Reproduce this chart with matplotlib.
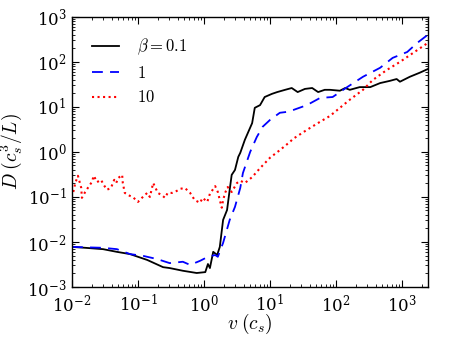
import numpy as np
import matplotlib
matplotlib.use("Agg")
import matplotlib.pyplot as plt

# log10 values
logv_b01 = [-2.00, -1.80, -1.53, -1.32, -1.12, -0.86, -0.62, -0.52, -0.32, -0.11, 0.02, 0.06, 0.09, 0.14,
            0.20, 0.24, 0.29, 0.35, 0.39, 0.42, 0.47, 0.52, 0.55, 0.62, 0.73, 0.77, 0.85, 0.92, 1.03,
            1.11, 1.23, 1.33, 1.42, 1.53, 1.64, 1.73, 1.83, 1.91, 2.06, 2.14, 2.21, 2.36, 2.52, 2.67,
            2.82, 2.92, 2.97, 3.12, 3.27, 3.39]
logD_b01 = [-2.11, -2.13, -2.16, -2.22, -2.27, -2.40, -2.56, -2.58, -2.64, -2.69, -2.67, -2.49, -2.58, -2.22,
            -2.29, -2.11, -1.51, -1.29, -0.84, -0.51, -0.40, -0.11, -0.02, 0.27, 0.64, 0.98, 1.04, 1.22, 1.29,
            1.33, 1.38, 1.42, 1.33, 1.40, 1.42, 1.33, 1.38, 1.38, 1.36, 1.42, 1.38, 1.44, 1.44, 1.53,
            1.58, 1.62, 1.56, 1.67, 1.76, 1.84]

logv_b1 = [-2.00, -1.53, -1.32, -1.12, -0.92, -0.71, -0.52, -0.32, -0.21, -0.06, 0.06, 0.17, 0.21, 0.29,
           0.39, 0.47, 0.55, 0.59, 0.70, 0.80, 0.89, 1.00, 1.15, 1.26, 1.35, 1.56, 1.76, 1.95, 2.17,
           2.41, 2.67, 2.86, 3.08, 3.23, 3.39]
logD_b1 = [-2.11, -2.13, -2.16, -2.27, -2.31, -2.38, -2.47, -2.44, -2.51, -2.42, -2.33, -2.29, -2.33, -2.02,
           -1.51, -1.22, -0.80, -0.47, 0.00, 0.33, 0.56, 0.71, 0.87, 0.89, 0.93, 1.04, 1.20, 1.22, 1.44,
           1.67, 1.87, 2.09, 2.22, 2.42, 2.60]

logv_b10 = [-1.98, -1.95, -1.91, -1.86, -1.85, -1.80, -1.76, -1.70, -1.67, -1.62, -1.56, -1.52, -1.47, -1.41,
            -1.36, -1.33, -1.30, -1.24, -1.23, -1.20, -1.15, -1.08, -1.00, -0.94, -0.86, -0.82, -0.77, -0.74,
            -0.70, -0.64, -0.59, -0.55, -0.48, -0.44, -0.36, -0.29, -0.21, -0.14, -0.06, -0.02, 0.05, 0.09,
            0.17, 0.21, 0.24, 0.27, 0.29, 0.32, 0.36, 0.42, 0.50, 0.55, 0.62, 0.73, 0.85, 1.00, 1.15, 1.30,
            1.35, 1.56, 1.76, 1.91, 2.06, 2.21, 2.41, 2.56, 2.77, 2.97, 3.17, 3.39]
logD_b10 = [-0.89, -0.69, -0.53, -0.80, -1.02, -0.89, -0.80, -0.67, -0.53, -0.67, -0.62, -0.73, -0.84, -0.80,
            -0.62, -0.69, -0.58, -0.51, -0.69, -0.91, -0.96, -1.00, -1.11, -1.02, -0.91, -1.00, -0.69, -0.78,
            -0.91, -0.96, -1.02, -0.91, -0.91, -0.89, -0.82, -0.80, -0.91, -1.07, -1.13, -1.02, -1.11, -0.93,
            -0.76, -0.89, -1.07, -1.24, -1.07, -0.91, -0.78, -0.89, -0.69, -0.64, -0.69, -0.56, -0.36, -0.13,
            0.04, 0.22, 0.29, 0.49, 0.67, 0.80, 0.98, 1.16, 1.38, 1.60, 1.82, 2.00, 2.20, 2.42]

labels = [r"$\beta=0.1$", r"$1$", r"$10$"]

plt.rcParams['mathtext.fontset'] = 'cm'
plt.rcParams['font.family'] = 'serif'
plt.rcParams['font.serif'] = ['DejaVu Serif']

fig = plt.figure(figsize=(4.5, 3.38), dpi=100, facecolor='white')
ax = fig.add_axes([0.16, 0.151, 0.791, 0.799])

ax.plot(10**np.array(logv_b01), 10**np.array(logD_b01), color='black', ls='-', lw=1.3, label=labels[0])
ax.plot(10**np.array(logv_b1), 10**np.array(logD_b1), color='blue', ls='--', lw=1.3, dashes=(6, 4), label=labels[1])
ax.plot(10**np.array(logv_b10), 10**np.array(logD_b10), color='red', ls=':', lw=1.5, label=labels[2])

ax.set_xscale('log')
ax.set_yscale('log')
ax.set_xlim(1e-2, 2.48e3)
ax.set_ylim(1e-3, 1e3)

ax.tick_params(which='both', direction='in', top=True, right=True, labelsize=12)
ax.tick_params(which='major', length=5, width=0.8)
ax.tick_params(which='minor', length=2.5, width=0.6)
ax.tick_params(axis='x', pad=5)
ax.tick_params(axis='y', pad=4)
for s in ax.spines.values():
    s.set_linewidth(1.0)

ax.set_xlabel(r"$v\;(c_s)$", fontsize=14, labelpad=-3)
ax.set_ylabel(r"$D\;(c_s^3/L)$", fontsize=14, labelpad=2)

leg = ax.legend(loc='upper left', frameon=False, fontsize=12, handlelength=1.6,
                borderaxespad=0.8, labelspacing=0.45, handletextpad=1.1)

fig.savefig('out.png', dpi=100, facecolor='white')
